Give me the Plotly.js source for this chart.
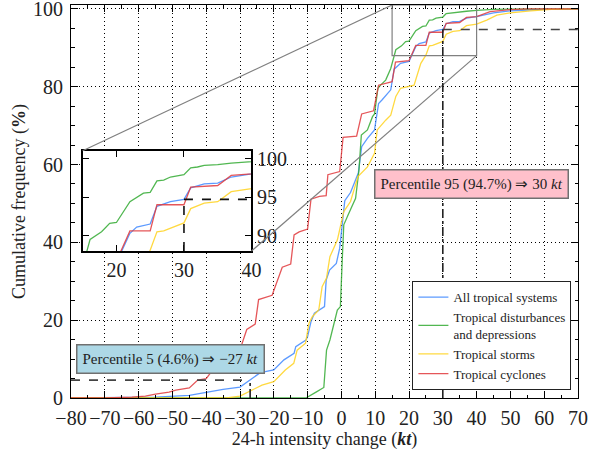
<!DOCTYPE html>
<html>
<head>
<meta charset="utf-8">
<script src="https://cdn.plot.ly/plotly-3.0.1.min.js"></script>
<style>html,body{margin:0;padding:0;background:#fff;}#chart{width:604px;height:459px;}</style>
</head>
<body>
<div id="chart"></div>
<script>
// ---- Data ----
const seriesNames = ["All tropical systems", "Tropical disturbances<br>and depressions", "Tropical storms", "Tropical cyclones"];
const seriesColors = ["#3f88ff", "#33aa33", "#ffd21f", "#e0383c"];

const allX = [-80, -55, -45, -40, -35, -30, -27, -24, -20, -17, -14, -13.5, -10.5, -10, -9, -8, -5, -4.5, -3.5, -1.5, -0.5, 1, 2.7, 4.2, 5, 6, 7.7, 9.8, 11, 12, 14.6, 15.6, 17.5, 20, 22, 23, 25, 26, 28, 30, 31, 33, 35, 37, 40, 45, 50, 60, 70];
const allY = [0, 0.2, 0.7, 1.5, 2.2, 2.8, 4.6, 6.5, 7.2, 9.8, 11.5, 13.2, 14.9, 15.8, 19.6, 21.8, 23.5, 30.3, 32.9, 34.6, 38.5, 50.7, 52.8, 56, 57.8, 64.6, 66.7, 68.9, 75.7, 76.6, 79.2, 84.5, 86, 86.5, 90.3, 91.1, 91.5, 93.8, 94.4, 94.7, 96.2, 96.7, 96.8, 97.6, 98.0, 99.0, 99.5, 99.9, 100];

const tdX = [-80, -10.5, -7.5, -5.2, -4.4, -3.4, -1.2, -0.3, 0.25, 0.7, 2.2, 4.2, 5.2, 5.9, 7.7, 9.2, 9.8, 10.8, 11.6, 13.1, 14.6, 15.6, 16.1, 17.8, 19, 20, 22, 24, 25, 26, 27, 28, 30, 31, 32, 33, 35, 37, 40, 45, 70];
const tdY = [0, 0, 1.5, 2.7, 12.3, 14.9, 22.6, 23.5, 35.5, 44.5, 47.5, 51.3, 58.6, 67.6, 68.9, 72.3, 73, 79.6, 80.4, 81.7, 84.7, 88.1, 89.5, 90.5, 91.6, 91.7, 94.4, 95.5, 95.6, 97.1, 97.2, 97.6, 97.9, 98.8, 98.9, 99.1, 99.2, 99.4, 99.6, 99.9, 100];

const tsX = [-80, -34, -30, -27, -23.5, -20, -16.6, -14.1, -13.1, -10.6, -9.6, -8.6, -6.7, -5.7, -4.4, -3.4, -1.2, 0.7, 2.7, 4.9, 7.7, 9.8, 10.6, 13.1, 14.6, 16.1, 17.5, 21.5, 23.5, 25, 26, 27, 30, 31, 32, 33, 35, 37, 40, 43, 46, 50, 56, 62, 70];
const tsY = [0, 0, 0.5, 1.8, 3.3, 4.2, 7.2, 8.9, 12.3, 14.1, 19.2, 20.9, 22.6, 28.6, 30.8, 36.3, 40.6, 47.9, 50.5, 56.9, 59.4, 62.9, 68.9, 71.4, 72.7, 77.5, 79.6, 80.4, 86, 88.1, 90.5, 90.6, 91.65, 93.5, 93.8, 94.2, 94.4, 95.7, 96.1, 97.1, 98.4, 99.0, 99.5, 99.9, 100];

const tcX = [-80, -70, -62, -58, -55, -51, -49, -45, -42.5, -40, -37.5, -35, -33, -30, -28, -25.5, -24.5, -20.5, -17.5, -15, -14, -12.5, -10, -9, -6.5, -4.5, -4, -0.5, 0.5, 4.5, 6, 9.5, 11, 15, 16, 20, 22, 25, 26, 30, 31, 35, 37, 40, 44, 50, 55, 70];
const tcY = [0, 0, 0.2, 0.5, 1.0, 1.5, 2.0, 2.6, 4.6, 5.0, 7.9, 8.2, 11.8, 12.4, 17.6, 19.0, 25.3, 26.4, 33.6, 34.4, 41.9, 42.7, 43.4, 51.1, 51.8, 52.0, 57.4, 58.2, 67.0, 67.3, 73.0, 73.8, 80.4, 81.3, 86.3, 86.7, 90.6, 90.6, 94.0, 94.0, 96.3, 96.5, 97.8, 98.0, 99.3, 99.8, 100, 100];

// percentiles
const p5Value = 4.6, p5Change = -27;
const p95Value = 94.7, p95Change = 30;
const p5Label = "Percentile 5 (4.6%) \u21D2 \u221227 <i>kt</i>";
const p95Label = "Percentile 95 (94.7%) \u21D2 30 <i>kt</i>";

// axes
const xRange = [-80, 70];
const yRange = [0, 101];
const xTicks = [-80, -70, -60, -50, -40, -30, -20, -10, 0, 10, 20, 30, 40, 50, 60, 70];
const yTicks = [0, 20, 40, 60, 80, 100];
const insetXRange = [15, 40];
const insetYRange = [88, 101];
const insetXTicks = [20, 30, 40];
const insetYTicks = [90, 95, 100];

// ---- Layout geometry ----
const insetDomX = [0.023, 0.356];
const insetDomY = [0.374, 0.629];
const FONT = "Liberation Serif";
const GRIDDASH = "1px,3px";

const xs = [allX, tdX, tsX, tcX];
const ys = [allY, tdY, tsY, tcY];

const traces = [];
for (let i = 0; i < 4; i++) {
  traces.push({
    x: xs[i], y: ys[i], type: "scatter", mode: "lines", name: seriesNames[i],
    line: {color: seriesColors[i], width: 1.3}, opacity: 0.85,
    xaxis: "x", yaxis: "y", showlegend: true
  });
}
for (let i = 0; i < 4; i++) {
  traces.push({
    x: xs[i], y: ys[i], type: "scatter", mode: "lines", name: seriesNames[i],
    line: {color: seriesColors[i], width: 1.3}, opacity: 0.85,
    xaxis: "x2", yaxis: "y2", showlegend: false, hoverinfo: "skip"
  });
}

// inset corners in main-axis data coordinates
const toMainX = d => xRange[0] + d * (xRange[1] - xRange[0]);
const toMainY = d => yRange[0] + d * (yRange[1] - yRange[0]);
const insL = toMainX(insetDomX[0]), insR = toMainX(insetDomX[1]);
const insB = toMainY(insetDomY[0]), insT = toMainY(insetDomY[1]);

const gray = "#808080";
const shapes = [
  {type: "rect", xref: "x2", yref: "y2", x0: insetXRange[0], x1: insetXRange[1], y0: insetYRange[0], y1: insetYRange[1],
   fillcolor: "#ffffff", line: {width: 0}, layer: "below"},
  {type: "rect", xref: "x", yref: "y", x0: insetXRange[0], x1: insetXRange[1], y0: insetYRange[0], y1: insetYRange[1],
   line: {color: gray, width: 1.2}, layer: "above"},
  {type: "line", xref: "x", yref: "y", x0: insL, y0: insT, x1: insetXRange[0], y1: insetYRange[1], line: {color: gray, width: 1.2}},
  {type: "line", xref: "x", yref: "y", x0: insR, y0: insB, x1: insetXRange[1], y1: insetYRange[0], line: {color: gray, width: 1.2}},
  {type: "line", xref: "x", yref: "y", x0: xRange[0], x1: p5Change, y0: p5Value, y1: p5Value, line: {color: "#444", width: 1.6, dash: "dash"}},
  {type: "line", xref: "x", yref: "y", x0: p5Change, x1: p5Change, y0: 0, y1: p5Value, line: {color: "#222", width: 1.6, dash: "dashdot"}},
  {type: "line", xref: "x", yref: "y", x0: p95Change, x1: xRange[1], y0: p95Value, y1: p95Value, line: {color: "#444", width: 1.6, dash: "dash"}},
  {type: "line", xref: "x", yref: "y", x0: p95Change, x1: p95Change, y0: 0, y1: p95Value, line: {color: "#222", width: 1.6, dash: "dashdot"}},
  {type: "line", xref: "x2", yref: "y2", x0: p95Change, x1: insetXRange[1], y0: p95Value, y1: p95Value, line: {color: "#111", width: 1.6, dash: "dash"}},
  {type: "line", xref: "x2", yref: "y2", x0: p95Change, x1: p95Change, y0: insetYRange[0], y1: p95Value, line: {color: "#111", width: 1.6, dash: "dash"}}
];

const annotations = [
  {xref: "x", yref: "y", x: -50.7, y: 10, text: p5Label, showarrow: false,
   font: {family: FONT, size: 15, color: "#222"}, bgcolor: "#add8e6", bordercolor: "#707070", borderwidth: 1.5, borderpad: 5},
  {xref: "x", yref: "y", x: 38.5, y: 55.1, text: p95Label, showarrow: false,
   font: {family: FONT, size: 15, color: "#222"}, bgcolor: "#ffc0cb", bordercolor: "#707070", borderwidth: 1.5, borderpad: 5}
];

const layout = {
  width: 604, height: 459,
  margin: {l: 71, r: 25.5, t: 5.3, b: 61.3},
  paper_bgcolor: "#ffffff", plot_bgcolor: "#ffffff",
  font: {family: FONT, color: "#222"},
  showlegend: true,
  legend: {x: 0.987, y: 0.02, xanchor: "right", yanchor: "bottom", bgcolor: "#ffffff",
           bordercolor: "#222", borderwidth: 1, font: {family: FONT, size: 13, color: "#222"},
           itemwidth: 30, tracegroupgap: 0},
  xaxis: {
    range: xRange, tickvals: xTicks, ticks: "inside", ticklen: 7, tickwidth: 1, tickcolor: "#000",
    minor: {dtick: 5, ticks: "inside", ticklen: 3.5, tickcolor: "#000", showgrid: false},
    showline: true, linecolor: "#000", linewidth: 1, mirror: "ticks",
    showgrid: true, gridcolor: "#000", griddash: GRIDDASH, gridwidth: 1, zeroline: false,
    tickfont: {family: FONT, size: 20, color: "#222"}, ticklabelstandoff: 2, ticklabeloverflow: "allow",
    title: {text: "24-h intensity change (<b><i>kt</i></b>)", font: {family: FONT, size: 18, color: "#222"}, standoff: 4},
    anchor: "y", domain: [0, 1]
  },
  yaxis: {
    range: yRange, tickvals: yTicks, ticks: "inside", ticklen: 7, tickwidth: 1, tickcolor: "#000",
    minor: {dtick: 5, ticks: "inside", ticklen: 3.5, tickcolor: "#000", showgrid: false},
    showline: true, linecolor: "#000", linewidth: 1, mirror: "ticks",
    showgrid: true, gridcolor: "#000", griddash: GRIDDASH, gridwidth: 1, zeroline: false,
    tickfont: {family: FONT, size: 20, color: "#222"}, ticklabelstandoff: 3, ticklabeloverflow: "allow",
    title: {text: "Cumulative frequency (<b>%</b>)", font: {family: FONT, size: 18, color: "#222"}, standoff: 2},
    anchor: "x", domain: [0, 1]
  },
  xaxis2: {
    domain: insetDomX, anchor: "y2", range: insetXRange, tickvals: insetXTicks,
    ticks: "inside", ticklen: 6, tickcolor: "#000",
    showline: true, linecolor: "#000", linewidth: 1.5, mirror: "ticks",
    showgrid: false, zeroline: false, tickfont: {family: FONT, size: 20, color: "#222"}, ticklabeloverflow: "allow"
  },
  yaxis2: {
    domain: insetDomY, anchor: "x2", side: "right", range: insetYRange, tickvals: insetYTicks,
    ticks: "inside", ticklen: 6, tickcolor: "#000",
    showline: true, linecolor: "#000", linewidth: 1.5, mirror: "ticks",
    showgrid: false, zeroline: false, tickfont: {family: FONT, size: 20, color: "#222"}, ticklabeloverflow: "allow"
  },
  shapes: shapes,
  annotations: annotations
};

Plotly.newPlot("chart", traces, layout, {staticPlot: true, displayModeBar: false});
</script>
</body>
</html>
